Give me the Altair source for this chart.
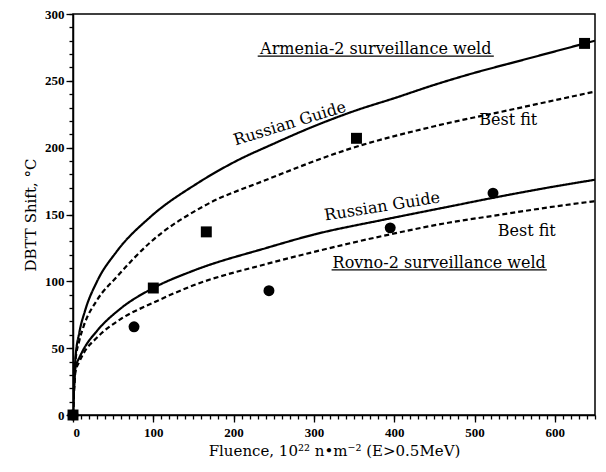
import altair as alt
import pandas as pd

# Russian Guide and best-fit trend curves (fluence in 1e22 n/m^2, shift in degC)
armenia_guide_F = [0, 3, 8, 15, 30, 54, 96, 154, 200, 250, 300, 353, 400, 450, 500, 550, 600, 650]
armenia_guide_T = [0, 42, 62, 78, 100, 122, 148, 173, 189, 203, 216, 228, 237, 247, 256, 264, 272, 280]

armenia_fit_F = [0, 3, 8, 13, 30, 54, 96, 162, 241, 349, 450, 550, 650]
armenia_fit_T = [0, 40, 56, 66, 86, 103, 129, 156, 176, 200, 216, 229, 242]

rovno_guide_F = [0, 3, 8, 13, 30, 60, 100, 150, 241, 300, 386, 469, 519, 600, 650]
rovno_guide_T = [0, 35, 43, 49, 63, 80, 95, 108, 125, 135, 146, 156, 162, 171, 176]

rovno_fit_F = [0, 3, 8, 13, 30, 60, 100, 150, 241, 300, 386, 469, 523, 600, 650]
rovno_fit_T = [0, 32, 40, 46, 58, 72, 84, 97, 113, 122, 134, 144, 149, 156, 160]

# Surveillance measurements
armenia_F = [0, 100, 166, 353, 637]
armenia_T = [0, 95, 137, 207, 278]
rovno_F = [0, 76, 244, 395, 523]
rovno_T = [0, 66, 93, 140, 166]

# Annotations: text, fluence, shift, angle
label_text = ["Armenia-2 surveillance weld", "Russian Guide", "Best fit",
              "Russian Guide", "Best fit", "Rovno-2 surveillance weld"]
label_F = [377, 270, 542, 385, 565, 456]
label_T = [274, 218, 221, 156, 138, 114]
label_angle = [0, 343, 0, 351, 0, 0]

# Underlines under the two weld titles
underline_F = [230, 322]
underline_F2 = [524, 590]
underline_T = [268.5, 108.5]

rows = []
for name, style, fs, ts in [
    ("armenia_guide", "guide", armenia_guide_F, armenia_guide_T),
    ("armenia_fit", "fit", armenia_fit_F, armenia_fit_T),
    ("rovno_guide", "guide", rovno_guide_F, rovno_guide_T),
    ("rovno_fit", "fit", rovno_fit_F, rovno_fit_T),
]:
    for i, (f, t) in enumerate(zip(fs, ts)):
        rows.append({"curve": name, "style": style, "F": f, "T": t, "order": i})
curves = pd.DataFrame(rows)

points = pd.DataFrame(
    [{"weld": "Armenia-2", "F": f, "T": t} for f, t in zip(armenia_F, armenia_T)]
    + [{"weld": "Rovno-2", "F": f, "T": t} for f, t in zip(rovno_F, rovno_T)]
)

labels = pd.DataFrame({"text": label_text, "F": label_F, "T": label_T, "angle": label_angle})
underlines = pd.DataFrame({"F": underline_F, "F2": underline_F2, "T": underline_T})

serif = "DejaVu Serif"

xs = alt.Scale(domain=[0, 650], nice=False, zero=False)
ys = alt.Scale(domain=[0, 300], nice=False)

# Major axes: labelled ticks
X = alt.X("F:Q", scale=xs, axis=alt.Axis(
    orient="bottom", values=list(range(0, 601, 100)), tickSize=7,
    title="Fluence,  10²² n•m⁻²  (E>0.5MeV)", grid=False,
    labelPadding=4, titlePadding=4,
))
Y = alt.Y("T:Q", scale=ys, axis=alt.Axis(
    orient="left", values=list(range(0, 301, 50)), tickSize=7,
    title="DBTT Shift,  °C", grid=False,
    labelPadding=2, titlePadding=6,
))

# Minor axes: short unlabelled ticks every 10 units
Xm = alt.X("F:Q", scale=xs, axis=alt.Axis(
    orient="bottom", values=list(range(0, 651, 10)), tickSize=4,
    labels=False, title=None, domain=False, grid=False,
))
Ym = alt.Y("T:Q", scale=ys, axis=alt.Axis(
    orient="left", values=list(range(0, 301, 10)), tickSize=4,
    labels=False, title=None, domain=False, grid=False,
))

lines = alt.Chart(curves).mark_line(
    color="black", strokeWidth=2.2, clip=True, interpolate="monotone"
).encode(
    x=X,
    y=Y,
    detail="curve:N",
    order="order:Q",
    strokeDash=alt.StrokeDash(
        "style:N",
        scale=alt.Scale(domain=["guide", "fit"], range=[[1, 0], [5, 3]]),
        legend=None,
    ),
)

marks = alt.Chart(points).mark_point(filled=True, color="black", opacity=1, size=120).encode(
    x=Xm,
    y=Ym,
    shape=alt.Shape(
        "weld:N",
        scale=alt.Scale(domain=["Armenia-2", "Rovno-2"], range=["square", "circle"]),
        legend=None,
    ),
)

texts = alt.Chart(labels).mark_text(font=serif, fontSize=16, color="black").encode(
    x=alt.X("F:Q", scale=xs, axis=None),
    y=alt.Y("T:Q", scale=ys, axis=None),
    text="text:N",
    angle=alt.Angle("angle:Q", scale=None),
)

rules = alt.Chart(underlines).mark_rule(color="black", strokeWidth=1.3).encode(
    x=alt.X("F:Q", scale=xs, axis=None),
    x2="F2:Q",
    y=alt.Y("T:Q", scale=ys, axis=None),
)

chart = (
    alt.layer(lines, marks, texts, rules)
    .resolve_axis(x="independent", y="independent")
    .properties(
        width=522,
        height=401,
        padding={"left": 73, "top": 14, "right": 11, "bottom": 57},
        autosize=alt.AutoSizeParams(type="none"),
        background="white",
    )
    .configure_view(stroke="black", strokeWidth=1.5)
    .configure_axis(
        domainColor="black",
        domainWidth=1.5,
        tickColor="black",
        tickWidth=1.3,
        labelFont="Liberation Serif",
        labelFontWeight="bold",
        labelFontSize=13,
        labelColor="black",
        titleFont=serif,
        titleFontSize=15,
        titleFontWeight="normal",
        titleColor="black",
    )
)

chart.save("out.html", embed_options={"renderer": "svg", "actions": False})
